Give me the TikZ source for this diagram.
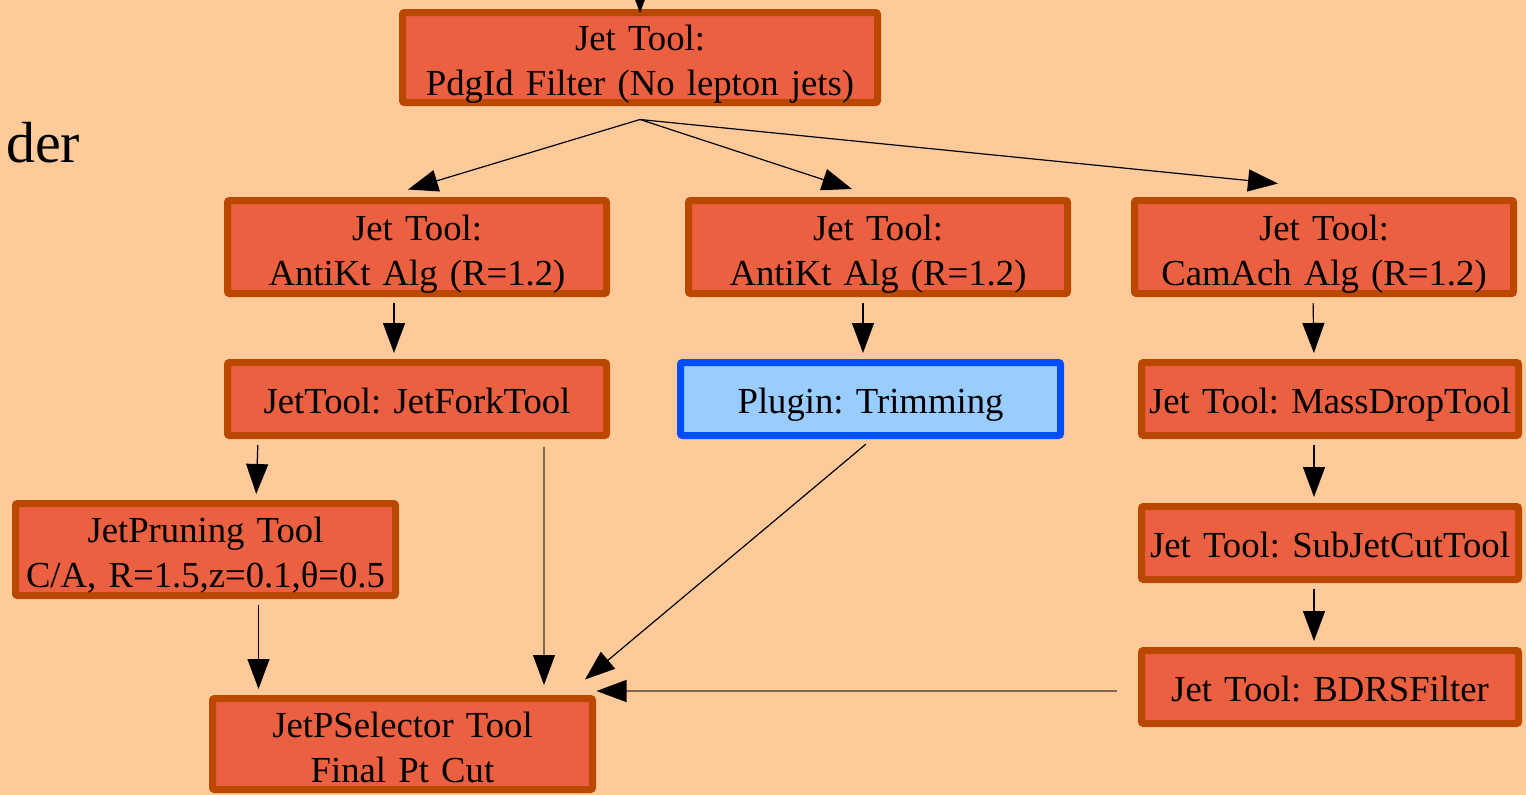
\documentclass[tikz,border=0pt]{standalone}
\usepackage{fontspec}
\setmainfont{Liberation Serif}
\usetikzlibrary{arrows.meta}
\frenchspacing
\definecolor{bg}{RGB}{255,202,153}
\definecolor{boxfill}{RGB}{234,96,64}
\definecolor{boxline}{RGB}{187,72,0}
\definecolor{plugfill}{RGB}{153,204,255}
\definecolor{plugline}{RGB}{0,76,255}
\definecolor{greyline}{RGB}{125,104,84}
\tikzset{
  tool/.style={draw=boxline, fill=boxfill, line width=7pt, rounded corners=2pt,
    align=center, inner sep=0pt, font=\frenchspacing\fontsize{36.7}{45}\selectfont},
  oneline/.style={text height=29pt, text depth=0pt},
  twoline/.style={text height=30pt, text depth=44pt},
  plug/.style={tool, draw=plugline, fill=plugfill},
  conn/.style={line width=1.2pt, -{Triangle[length=30pt,width=22pt,color=black]},
    shorten >=6pt, shorten <=6pt},
  greyconn/.style={conn, draw=greyline},
}
\begin{document}
\begin{tikzpicture}[x=1pt,y=-1pt]
\fill[bg] (0,0) rectangle (1526,795);
\useasboundingbox (0,0) rectangle (1526,795);

\node[anchor=base west, inner sep=0pt, font=\fontsize{58}{60}\selectfont] (der) at (6,162) {der};

\node[tool, twoline, text width=475pt, minimum height=90pt] (top) at (640,57.5) {Jet Tool:\\PdgId Filter (No lepton jets)};
\node[tool, twoline, text width=379pt, minimum height=93pt] (ak1) at (417,247) {Jet Tool:\\AntiKt Alg (R=1.2)};
\node[tool, twoline, text width=379pt, minimum height=93pt] (ak2) at (878,247) {Jet Tool:\\AntiKt Alg (R=1.2)};
\node[tool, twoline, text width=379pt, minimum height=93pt] (cam) at (1324,247) {Jet Tool:\\CamAch Alg (R=1.2)};
\node[tool, oneline, text width=379pt, minimum height=73pt] (fork) at (417,399) {JetTool: JetForkTool};
\node[plug, oneline, text width=380pt, minimum height=73pt] (trim) at (870.5,399) {Plugin: Trimming};
\node[tool, oneline, text width=377pt, minimum height=73pt] (mass) at (1330,399) {Jet Tool: MassDropTool};
\node[tool, twoline, text width=380pt, minimum height=92pt] (prun) at (205.5,549.5) {JetPruning Tool\\C/A, R=1.5,z=0.1,θ=0.5};
\node[tool, oneline, text width=377pt, minimum height=73pt] (sub) at (1330,543) {Jet Tool: SubJetCutTool};
\node[tool, oneline, text width=377pt, minimum height=73pt] (bdrs) at (1330,687) {Jet Tool: BDRSFilter};
\node[tool, twoline, text width=380pt, minimum height=91pt] (sel) at (402.5,744) {JetPSelector Tool\\Final Pt Cut};

\coordinate (in) at (640,-5);
\coordinate (split) at ([yshift=-13.5pt]top.south);

\draw[conn, shorten <=0pt, shorten >=-4pt] (in) -- (top.north);
\draw[conn, shorten <=0pt, shorten >=0pt] (split) -- ([xshift=-9pt,yshift=7.5pt]ak1.north);
\draw[conn, shorten <=0pt, shorten >=0pt] (split) -- ([xshift=-26pt,yshift=8pt]ak2.north);
\draw[conn, shorten <=0pt, shorten >=0pt] (split) -- ([xshift=-46pt,yshift=13.5pt]cam.north);

\draw[conn] ([xshift=-23pt]ak1.south) -- ([xshift=-23pt]fork.north);
\draw[conn] ([xshift=-15pt]ak2.south) -- ([xshift=-7.5pt]trim.north);
\draw[conn] ([xshift=-11pt]cam.south) -- ([xshift=-16pt]mass.north);
\draw[conn] ([xshift=-16pt]mass.south) -- ([xshift=-16pt]sub.north);
\draw[conn] ([xshift=-16pt]sub.south) -- ([xshift=-16pt]bdrs.north);

\draw[conn] ([xshift=-159pt]fork.south) -- ([xshift=50.5pt]prun.north);
\draw[conn] ([xshift=53pt]prun.south) -- ([xshift=-144pt]sel.north);
\draw[greyconn, shorten <=8pt, shorten >=10pt] ([xshift=127pt]fork.south) -- ([xshift=141.5pt]sel.north);
\draw[conn, shorten <=8pt, shorten >=0pt] ([xshift=1.5pt]trim.south) -- ([xshift=182.5pt,yshift=15.5pt]sel.north);
\draw[greyconn, shorten <=21.5pt, shorten >=0pt] ([yshift=-4pt]bdrs.west) -- ([xshift=0.5pt,yshift=53pt]sel.east);
\end{tikzpicture}
\end{document}
